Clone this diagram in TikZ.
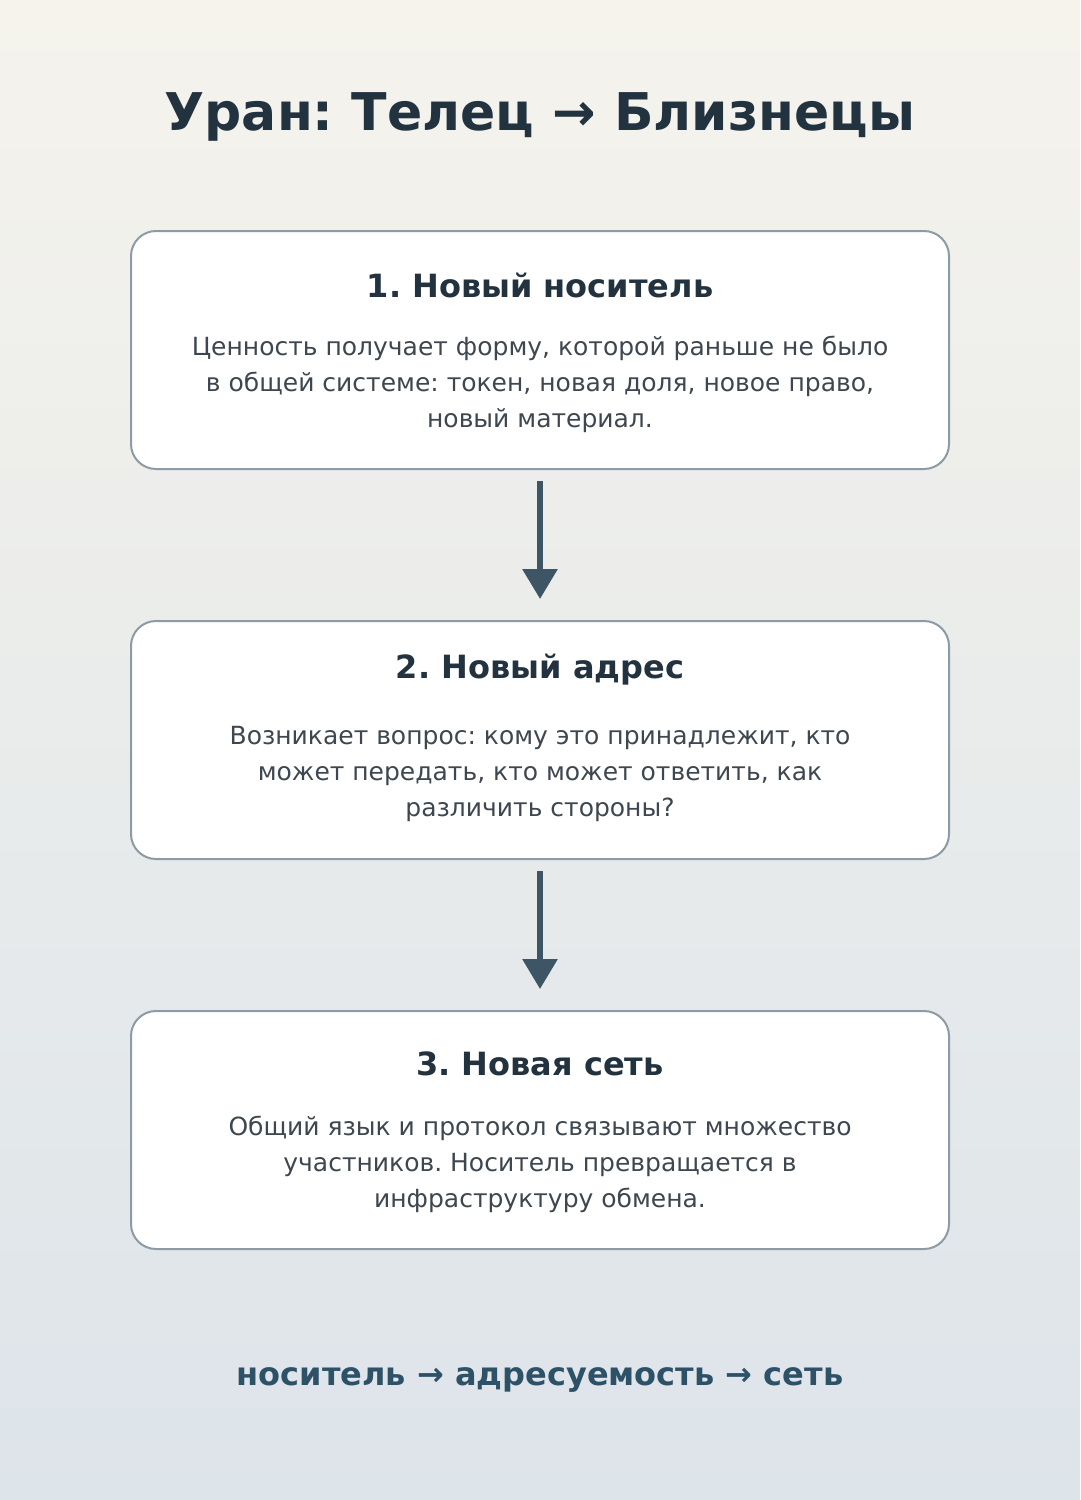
\documentclass[tikz,border=0pt]{standalone}
\usepackage{fontspec}
\setmainfont{DejaVu Sans}
\frenchspacing
\usetikzlibrary{positioning,arrows.meta}
\definecolor{inkdark}{HTML}{22323F}
\definecolor{inkbody}{HTML}{3E474F}
\definecolor{rimgray}{HTML}{8C9BA5}
\definecolor{arrowblue}{HTML}{3E5566}
\definecolor{footblue}{HTML}{2D5268}
\definecolor{bgtop}{HTML}{F5F3EC}
\definecolor{bgbottom}{HTML}{DDE4EA}
\tikzset{
  step box/.style={draw=rimgray, line width=2pt, fill=white, rounded corners=25pt,
    minimum width=818pt, minimum height=238pt, inner sep=0pt},
  step title/.style={text=inkdark, font=\fontsize{32}{36}\selectfont\bfseries},
  step text/.style={text=inkbody, align=center, font=\fontsize{25}{36}\selectfont},
  flow/.style={arrowblue, line width=6pt, -{Triangle[length=30pt,width=34pt]},
    shorten <=11pt, shorten >=21pt}
}
\begin{document}
\begin{tikzpicture}[x=1pt,y=-1pt]
    % Background
    \shade[top color=bgtop, bottom color=bgbottom] (0,0) rectangle (1080,1500);
    \useasboundingbox (0,0) rectangle (1080,1500);

    % Title
    \node[text=inkdark, font=\fontsize{52}{60}\selectfont\bfseries] (title) at (540,117) {Уран: Телец → Близнецы};

    % Steps
    \node[step box] (carrier) at (540,350) {};
    \node[step box] (address) at (540,740) {};
    \node[step box] (network) at (540,1130) {};

    \node[step title] (carrierhead) at ([yshift=65pt]carrier.center) {1. Новый носитель};
    \node[step text] (carriertext) at ([yshift=-34pt]carrier.center) {Ценность получает форму, которой раньше не было\\в общей системе: токен, новая доля, новое право,\\новый материал.};

    \node[step title] (addresshead) at ([yshift=70pt]address.center) {2. Новый адрес};
    \node[step text] (addresstext) at ([yshift=-34pt]address.center) {Возникает вопрос: кому это принадлежит, кто\\может передать, кто может ответить, как\\различить стороны?};

    \node[step title] (networkhead) at ([yshift=66pt]network.center) {3. Новая сеть};
    \node[step text] (networktext) at ([yshift=-34pt]network.center) {Общий язык и протокол связывают множество\\участников. Носитель превращается в\\инфраструктуру обмена.};

    % Arrows
    \draw[flow] (carrier) -- (address);
    \draw[flow] (address) -- (network);

    % Footer
    \node[text=footblue, font=\fontsize{32}{36}\selectfont\bfseries] (footer) at (540,1380) {носитель → адресуемость → сеть};
\end{tikzpicture}
\end{document}
